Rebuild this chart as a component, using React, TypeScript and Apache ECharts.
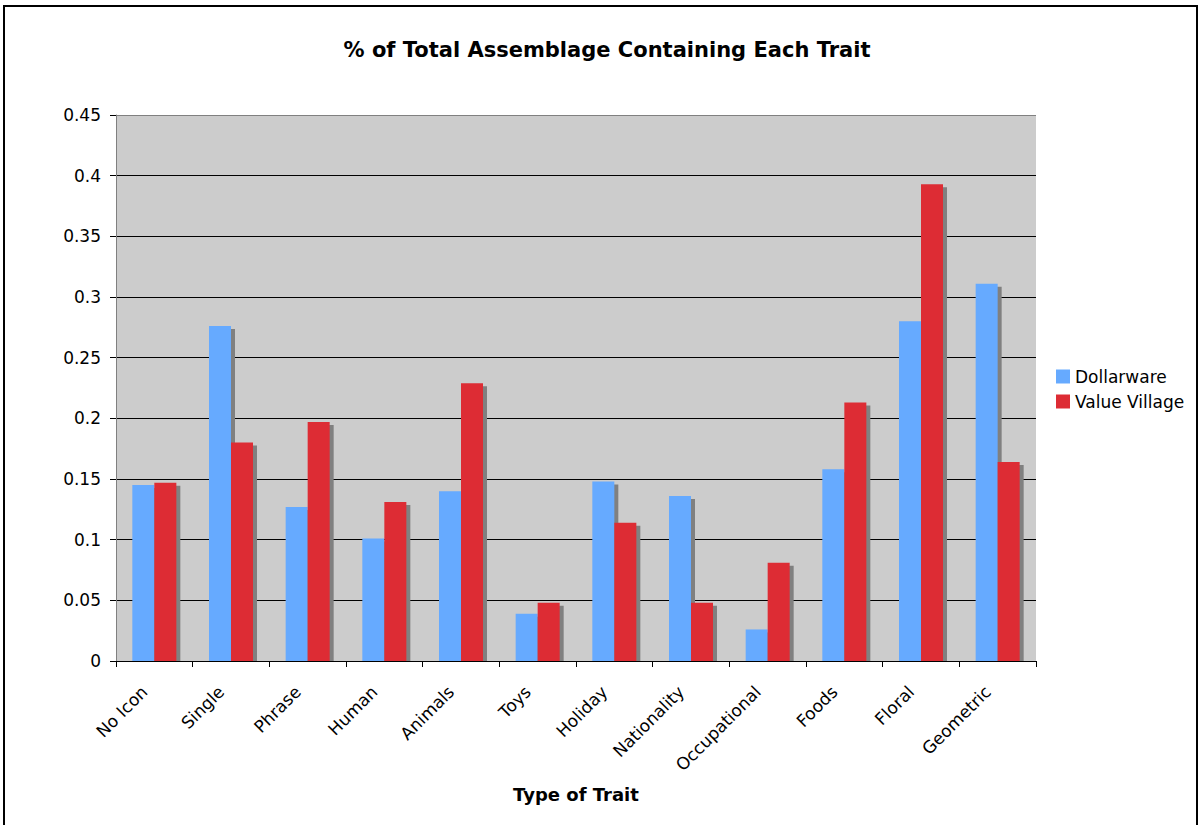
import React, { useEffect, useRef } from "react";
import * as echarts from "echarts";

// Trait categories along the x axis
const categories = [
  "No Icon",
  "Single",
  "Phrase",
  "Human",
  "Animals",
  "Toys",
  "Holiday",
  "Nationality",
  "Occupational",
  "Foods",
  "Floral",
  "Geometric",
];

// Share of each assemblage containing the trait
const dollarware = [0.145, 0.276, 0.127, 0.101, 0.14, 0.039, 0.148, 0.136, 0.026, 0.158, 0.28, 0.311];
const valueVillage = [0.147, 0.18, 0.197, 0.131, 0.229, 0.048, 0.114, 0.048, 0.081, 0.213, 0.393, 0.164];

// Value-axis tick labels, from 0 up to the axis maximum
const yTicks = ["0", "0.05", "0.1", "0.15", "0.2", "0.25", "0.3", "0.35", "0.4", "0.45"];

const seriesNames = ["Dollarware", "Value Village"];
const seriesColors = ["#66AAFF", "#DD2C34"];

const FONT = '"DejaVu Sans", Verdana, sans-serif';

// Bars with an offset drop shadow, side by side within each category
function makeRenderItem(seriesPos: number) {
  return (params: any, api: any) => {
    const idx = api.value(0);
    const val = api.value(1);
    const base = api.coord([idx, 0]);
    const top = api.coord([idx, val]);
    const band = api.size([1, 0])[0];
    const bw = band * 0.287;
    const left = base[0] - bw + seriesPos * bw;
    const h = base[1] - top[1];
    return {
      type: "group",
      children: [
        {
          type: "rect",
          shape: { x: left + 4, y: top[1] + 3, width: bw, height: Math.max(0, h - 3) },
          style: { fill: "#808080" },
        },
        {
          type: "rect",
          shape: { x: left, y: top[1], width: bw, height: h },
          style: { fill: api.visual("color") },
        },
      ],
    };
  };
}

export default function App() {
  const ref = useRef<HTMLDivElement>(null);

  useEffect(() => {
    if (!ref.current) return;
    const chart = echarts.init(ref.current, null, { renderer: "svg" });

    const splitColors = yTicks.map((_, i) => (i === yTicks.length - 1 ? "#808080" : "#000000"));

    chart.setOption({
      animation: false,
      backgroundColor: "#ffffff",
      color: seriesColors,
      textStyle: { fontFamily: FONT },
      grid: {
        left: 116,
        top: 115,
        width: 920,
        height: 546,
        show: true,
        backgroundColor: "#CCCCCC",
        borderWidth: 0,
      },
      legend: {
        orient: "vertical",
        left: 1056,
        top: 368,
        padding: 0,
        itemWidth: 14,
        itemHeight: 14,
        itemGap: 8,
        icon: "rect",
        data: seriesNames,
        textStyle: { fontSize: 17, color: "#000", fontFamily: FONT },
      },
      xAxis: {
        type: "category",
        data: categories,
        z: 3,
        boundaryGap: true,
        axisLine: { show: true, lineStyle: { color: "#000", width: 1 } },
        axisTick: { show: true, length: 6, interval: 0, lineStyle: { color: "#000" } },
        axisLabel: {
          interval: 0,
          rotate: 45,
          margin: 18,
          padding: [0, 14, 0, 0],
          fontSize: 17,
          color: "#000",
          fontFamily: FONT,
        },
        splitLine: { show: false },
        name: "Type of Trait",
        nameLocation: "middle",
        nameGap: 124,
        nameTextStyle: { fontSize: 18, fontWeight: "bold", color: "#000", fontFamily: FONT },
      },
      yAxis: {
        type: "value",
        min: 0,
        max: 0.45,
        interval: 0.05,
        axisLine: { show: true, lineStyle: { color: "#808080", width: 1 } },
        axisTick: { show: true, length: 6, lineStyle: { color: "#000" } },
        axisLabel: {
          margin: 15,
          fontSize: 17,
          color: "#000",
          fontFamily: FONT,
          formatter: (v: number) => yTicks[Math.round(v / 0.05)] ?? String(v),
        },
        splitLine: { show: true, lineStyle: { color: splitColors, width: 1 } },
      },
      graphic: [
        {
          type: "text",
          x: 607,
          y: 50,
          style: {
            text: "% of Total Assemblage Containing Each Trait",
            textAlign: "center",
            textVerticalAlign: "middle",
            font: `bold 21px ${FONT}`,
            fill: "#000",
          },
        },
        {
          type: "rect",
          shape: { x: 4, y: 6, width: 1193, height: 840 },
          style: { fill: "none", stroke: "#000", lineWidth: 2 },
          silent: true,
        },
      ],
      series: [
        {
          name: seriesNames[0],
          type: "custom",
          renderItem: makeRenderItem(0),
          itemStyle: { color: seriesColors[0] },
          encode: { x: 0, y: 1 },
          data: dollarware.map((v, i) => [i, v]),
        },
        {
          name: seriesNames[1],
          type: "custom",
          renderItem: makeRenderItem(1),
          itemStyle: { color: seriesColors[1] },
          encode: { x: 0, y: 1 },
          data: valueVillage.map((v, i) => [i, v]),
        },
      ],
    });

    return () => chart.dispose();
  }, []);

  return (
    <div
      ref={ref}
      style={{ position: "fixed", left: 0, top: 0, width: 1201, height: 825 }}
    />
  );
}
